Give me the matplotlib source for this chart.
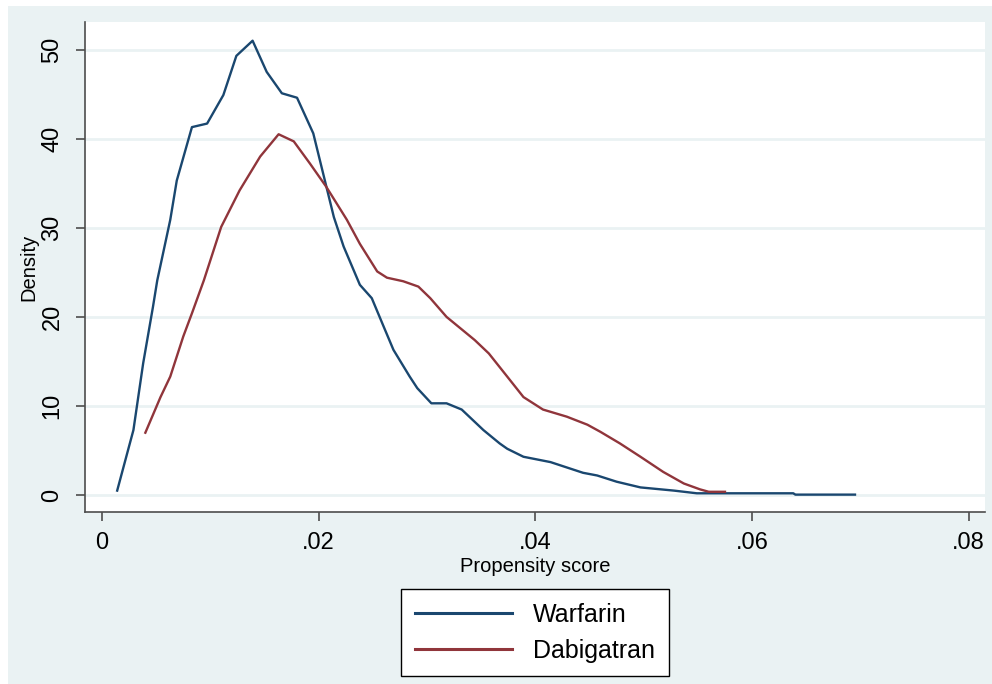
import matplotlib.pyplot as plt
import matplotlib.ticker as ticker
from matplotlib.patches import Rectangle

# Kernel density of the propensity score, by treatment group
warfarin_x = [0.0014, 0.0029, 0.0038, 0.0047, 0.0051, 0.0063, 0.0069, 0.0083,
              0.0097, 0.0112, 0.0124, 0.0139, 0.0152, 0.0166, 0.0180, 0.0195,
              0.0214, 0.0223, 0.0238, 0.0249, 0.0260, 0.0269, 0.0284, 0.0291,
              0.0304, 0.0318, 0.0332, 0.0352, 0.0367, 0.0374, 0.0389, 0.0414,
              0.0444, 0.0457, 0.0475, 0.0497, 0.0528, 0.0549, 0.0638, 0.0640,
              0.0695]
warfarin_y = [0.5, 7.3, 14.8, 21.1, 24.1, 30.9, 35.3, 41.3,
              41.7, 44.9, 49.3, 51.0, 47.5, 45.1, 44.6, 40.6,
              31.2, 27.9, 23.6, 22.1, 18.9, 16.3, 13.3, 12.0,
              10.3, 10.3, 9.6, 7.3, 5.8, 5.2, 4.3, 3.7,
              2.5, 2.2, 1.5, 0.86, 0.5, 0.2, 0.2, 0.05,
              0.05]

dabigatran_x = [0.0040, 0.0054, 0.0063, 0.0075, 0.0083, 0.0094, 0.0110, 0.0127,
                0.0146, 0.0163, 0.0177, 0.0192, 0.0207, 0.0226, 0.0238, 0.0254,
                0.0263, 0.0278, 0.0292, 0.0303, 0.0318, 0.0331, 0.0344, 0.0357,
                0.0374, 0.0389, 0.0407, 0.0429, 0.0448, 0.0460, 0.0478, 0.0497,
                0.0518, 0.0537, 0.0552, 0.0560, 0.0575]
dabigatran_y = [7.0, 11.0, 13.3, 17.8, 20.4, 24.1, 30.1, 34.2,
                38.0, 40.5, 39.7, 37.2, 34.6, 30.9, 28.2, 25.1,
                24.4, 24.0, 23.4, 22.1, 20.0, 18.7, 17.4, 15.9,
                13.3, 11.0, 9.6, 8.8, 7.9, 7.1, 5.8, 4.3,
                2.6, 1.3, 0.64, 0.37, 0.37]

x_ticks = [0, 0.02, 0.04, 0.06, 0.08]
x_tick_labels = ["0", ".02", ".04", ".06", ".08"]
y_ticks = [0, 10, 20, 30, 40, 50]

NAVY = "#1a476f"
MAROON = "#90353b"
PANEL = "#eaf2f3"
AXIS = "#4d4d4d"

plt.rcParams["font.family"] = ["Liberation Sans", "DejaVu Sans"]

W, H = 992, 684
fig = plt.figure(figsize=(W / 100, H / 100), dpi=100, facecolor="white")
# outer graph region, with a thin white margin top and left
fig.patches.append(Rectangle((8 / W, 0), 1 - 8 / W, 1 - 6 / H,
                             transform=fig.transFigure, facecolor=PANEL,
                             edgecolor="none", zorder=-10))

ax = fig.add_axes([85 / W, 1 - 512 / H, 900 / W, 490 / H])
ax.set_facecolor("white")

ax.plot(warfarin_x, warfarin_y, color=NAVY, linewidth=1.7, label="Warfarin", zorder=3)
ax.plot(dabigatran_x, dabigatran_y, color=MAROON, linewidth=1.7, label="Dabigatran", zorder=3)

ax.set_xlim(-0.00157, 0.0815)
ax.set_ylim(-1.9, 53.1)

ax.set_xticks(x_ticks)
ax.xaxis.set_major_formatter(ticker.FixedFormatter(x_tick_labels))
ax.set_yticks(y_ticks)
ax.set_yticklabels([str(v) for v in y_ticks], rotation=90, va="center")

ax.grid(axis="y", color=PANEL, linewidth=2.0, zorder=1)
ax.grid(axis="x", visible=False)

for side in ("top", "right"):
    ax.spines[side].set_visible(False)
for side in ("left", "bottom"):
    ax.spines[side].set_color(AXIS)
    ax.spines[side].set_linewidth(1.2)

ax.tick_params(axis="both", direction="out", length=6.5, width=1.2,
               color=AXIS, labelsize=17, labelcolor="black")
ax.tick_params(axis="x", pad=8)
ax.tick_params(axis="y", pad=9)

ax.set_xlabel("Propensity score", fontsize=14.5, labelpad=2)
ax.set_ylabel("Density", fontsize=14.5, labelpad=2)
ax.yaxis.set_label_coords(-0.052, 0.5)

leg = ax.legend(loc="upper center", bbox_to_anchor=(0.5, -0.157), ncol=1,
                fontsize=18, frameon=True, fancybox=False, framealpha=1,
                edgecolor="black", handlelength=3.9, handletextpad=0.85,
                borderpad=0.55, labelspacing=0.48, borderaxespad=0)
leg.get_frame().set_linewidth(1.0)
for line in leg.get_lines():
    line.set_linewidth(2.2)

fig.savefig("out.png", dpi=100, facecolor=fig.get_facecolor())
